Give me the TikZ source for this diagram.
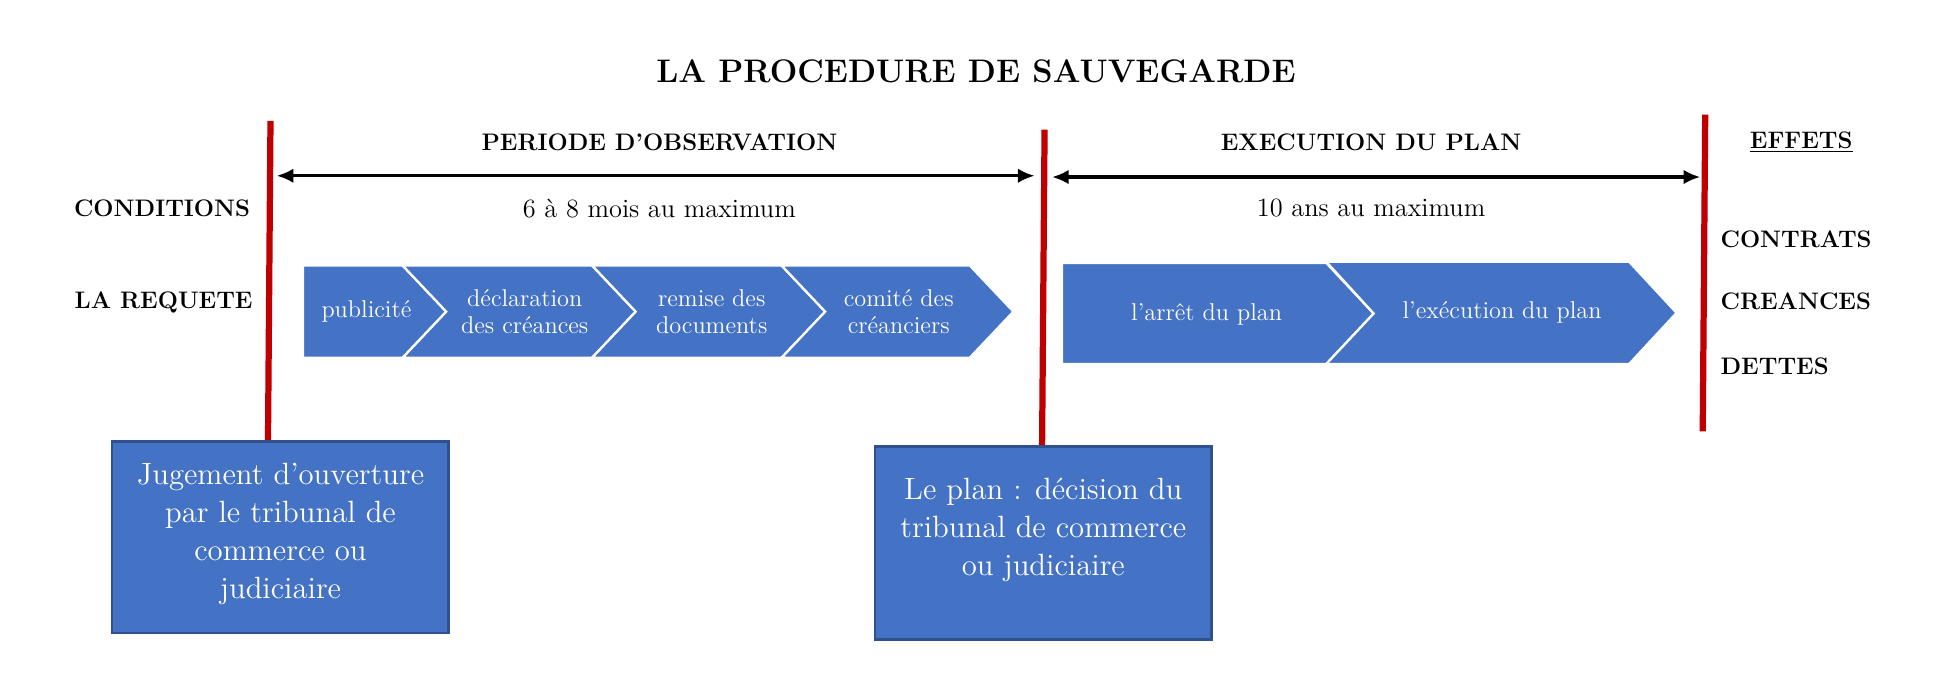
\documentclass[tikz,border=0pt]{standalone}
\usepackage{fontspec}
\usetikzlibrary{arrows.meta}
\definecolor{sgblue}{HTML}{4472C4}
\definecolor{sgborder}{HTML}{2F528F}
\definecolor{sgred}{HTML}{C00000}
\begin{document}
\begin{tikzpicture}[x=0.6pt,y=-0.6pt,
  redline/.style={draw=sgred,line width=3pt},
  span/.style={{Latex[length=8pt,width=7pt]}-{Latex[length=8pt,width=7pt]},line width=1.5pt},
  chev/.style={fill=sgblue,draw=white,line width=1.1pt,line join=miter},
  chevtext/.style={text=white,align=center,font=\fontsize{11.7}{12.6}\selectfont,inner sep=0pt},
  head/.style={font=\fontsize{11.5}{13.5}\selectfont\bfseries,inner sep=0pt},
  sub/.style={font=\fontsize{12.7}{15}\selectfont,inner sep=0pt},
  bigbox/.style={fill=sgblue,draw=sgborder,line width=1.2pt,minimum width=162pt,minimum height=92.4pt,inner sep=0pt},
  boxtext/.style={text=white,align=center,font=\fontsize{14.8}{18.3}\selectfont,inner sep=0pt}]
\useasboundingbox[fill=white] (0,0) rectangle (1570,561);

% title
\node[font=\fontsize{15.7}{18}\selectfont\bfseries,inner sep=0pt] (title) at (783,57) {LA PROCEDURE DE SAUVEGARDE};

% headings
\node[head] (obs) at (529,114) {PERIODE D’OBSERVATION};
\node[head] (exe) at (1100,114) {EXECUTION DU PLAN};
\node[head] (eff) at (1445,114) {\underline{EFFETS}};
\node[sub] (dur1) at (529,167) {6 à 8 mois au maximum};
\node[sub] (dur2) at (1100,167) {10 ans au maximum};

\node[head,anchor=east] (cond) at (201,167) {CONDITIONS};
\node[head,anchor=east] (req) at (203,243) {LA REQUETE};

\node[head,anchor=west] (contrats) at (1380,192) {CONTRATS};
\node[head,anchor=west] (creances) at (1380,242) {CREANCES};
\node[head,anchor=west] (dettes) at (1380,294) {DETTES};

% red lines
\coordinate (r1t) at (217,97);  \coordinate (r1b) at (215,353);
\coordinate (r2t) at (838,104); \coordinate (r2b) at (836,358);
\coordinate (r3t) at (1368,92); \coordinate (r3b) at (1366,346);
\draw[redline] (r1t) -- (r1b);
\draw[redline] (r2t) -- (r2b);
\draw[redline] (r3t) -- (r3b);

% span arrows
\coordinate (a1l) at (222,141); \coordinate (a1r) at (830,141);
\coordinate (a2l) at (844,142); \coordinate (a2r) at (1364,142);
\draw[span] (a1l) -- (a1r);
\draw[span] (a2l) -- (a2r);

% chevrons, group 1
\draw[chev] (243,213) -- (323,213) -- (358,250) -- (323,287) -- (243,287) -- cycle;
\draw[chev] (323,213) -- (475,213) -- (510,250) -- (475,287) -- (323,287) -- (358,250) -- cycle;
\draw[chev] (475,213) -- (627,213) -- (662,250) -- (627,287) -- (475,287) -- (510,250) -- cycle;
\draw[chev] (627,213) -- (778,213) -- (813,250) -- (778,287) -- (627,287) -- (662,250) -- cycle;
\node[chevtext] (c1) at (294,250) {publicité};
\node[chevtext] (c2) at (421,250) {déclaration\\des créances};
\node[chevtext] (c3) at (571,250) {remise des\\documents};
\node[chevtext] (c4) at (721,250) {comité des\\créanciers};

% chevrons, group 2
\draw[chev] (852,211) -- (1064,211) -- (1102,251.5) -- (1064,292) -- (852,292) -- cycle;
\draw[chev] (1064,210) -- (1307,210) -- (1345,251) -- (1307,292) -- (1064,292) -- (1102,251.5) -- cycle;
\node[chevtext] (c5) at (968,252) {l'arrêt du plan};
\node[chevtext] (c6) at (1205,251) {l'exécution du plan};

% bottom boxes
\node[bigbox] (box1) at (225,431) {};
\node[boxtext] (t1) at (225,428) {Jugement d’ouverture\\par le tribunal de\\commerce ou\\judiciaire};
\node[bigbox,minimum height=93pt] (box2) at (837,435.5) {};
\node[boxtext] (t2) at (837,425) {Le plan : décision du\\tribunal de commerce\\ou judiciaire};
\end{tikzpicture}
\end{document}
